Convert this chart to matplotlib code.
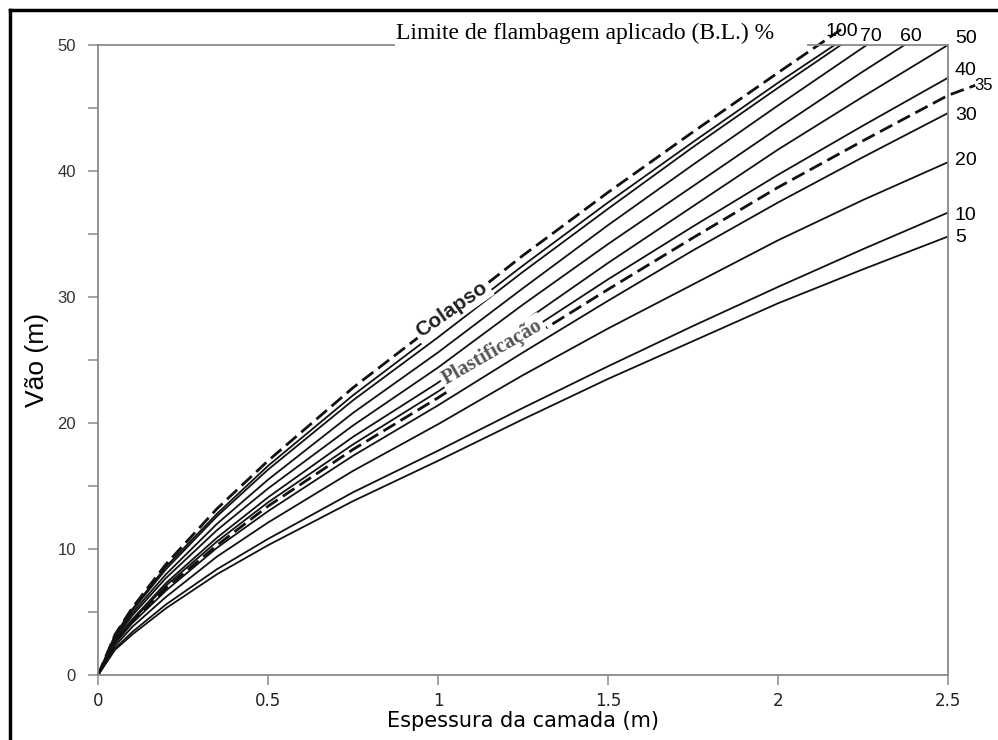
import matplotlib
matplotlib.use("Agg")
import matplotlib.pyplot as plt
from matplotlib.lines import Line2D

# espessura da camada (m) -> vao (m) for each B.L. curve
espessura = [0, 0.05, 0.1, 0.2, 0.35, 0.5, 0.75, 1.0, 1.25, 1.5, 1.75, 2.0, 2.25, 2.5]
vao_5 = [0, 2.0, 3.2, 5.3, 8.0, 10.3, 13.8, 17.0, 20.3, 23.5, 26.5, 29.5, 32.2, 34.8]
vao_10 = [0, 2.1, 3.4, 5.6, 8.4, 10.8, 14.5, 17.8, 21.2, 24.5, 27.7, 30.8, 33.8, 36.7]
vao_20 = [0, 2.3, 3.8, 6.2, 9.4, 12.1, 16.2, 19.9, 23.8, 27.5, 31.0, 34.5, 37.7, 40.7]
vao_30 = [0, 2.5, 4.1, 6.7, 10.1, 13.0, 17.4, 21.4, 25.6, 29.7, 33.7, 37.5, 41.1, 44.6]
vao_40 = [0, 2.6, 4.3, 7.1, 10.6, 13.7, 18.3, 22.5, 27.0, 31.4, 35.6, 39.7, 43.6, 47.4]
vao_50 = [0, 2.7, 4.4, 7.3, 10.9, 14.1, 18.9, 23.2, 28.0, 32.7, 37.2, 41.7, 45.9, 50.0]
vao_60 = [0, 2.8, 4.7, 7.7, 11.5, 14.8, 19.8, 24.4, 29.4, 34.2, 38.8, 43.4, 47.9, 52.2]
vao_70 = [0, 3.0, 4.9, 8.0, 12.0, 15.5, 20.8, 25.6, 30.7, 35.7, 40.5, 45.2, 49.8, 54.3]
vao_80 = [0, 3.1, 5.1, 8.4, 12.6, 16.3, 21.8, 26.8, 32.0, 37.0, 41.9, 46.6, 51.2]
vao_90 = [0, 3.2, 5.2, 8.6, 12.8, 16.6, 22.2, 27.3, 32.5, 37.5, 42.3, 47.0, 51.5]

# dashed curves run past the frame up to their labels
espessura_35 = [0, 0.05, 0.1, 0.2, 0.35, 0.5, 0.75, 1.0, 1.25, 1.5, 1.75, 2.0, 2.25, 2.5, 2.58]
vao_35 = [0, 2.6, 4.2, 6.9, 10.3, 13.4, 17.9, 22.0, 26.4, 30.6, 34.7, 38.7, 42.4, 46.0, 46.8]
espessura_100 = [0, 0.05, 0.1, 0.2, 0.35, 0.5, 0.75, 1.0, 1.25, 1.5, 1.75, 2.0, 2.2]
vao_100 = [0, 3.2, 5.3, 8.8, 13.2, 17.0, 22.8, 28.0, 33.3, 38.3, 43.1, 47.8, 51.5]

solid_curves = [vao_5, vao_10, vao_20, vao_30, vao_40, vao_50,
                vao_60, vao_70, vao_80, vao_90]

# curve labels and where they sit (data coords, outside the frame)
bl_labels = ["5", "10", "20", "30", "35", "40", "50", "60", "70", "100"]
bl_label_x = [2.52, 2.52, 2.52, 2.52, 2.578, 2.52, 2.52, 2.36, 2.24, 2.14]
bl_label_y = [34.7, 36.5, 40.8, 44.4, 46.8, 48.0, 50.5, 50.7, 50.7, 51.1]
bl_label_size = [14, 14, 14, 14, 12, 14, 14, 14, 14, 14]

xticks = [0, 0.5, 1, 1.5, 2, 2.5]
xtick_labels = ["0", "0.5", "1", "1.5", "2", "2.5"]
yticks = [0, 5, 10, 15, 20, 25, 30, 35, 40, 45, 50]
ytick_labels = ["0", "", "10", "", "20", "", "30", "", "40", "", "50"]

grey = "#8a8a8a"
narrow = ["Liberation Sans Narrow", "DejaVu Sans"]

fig = plt.figure(figsize=(9.98, 7.40), dpi=100)
ax = fig.add_axes([0.0982, 0.0878, 0.8517, 0.8514])

for vals in solid_curves:
    ax.plot(espessura[:len(vals)], vals, color="#111111", lw=1.3, zorder=2)

ax.plot(espessura_35, vao_35, color="#111111", lw=2.0, dashes=(5, 2.2),
        clip_on=False, zorder=2)
ax.plot(espessura_100, vao_100, color="#111111", lw=2.0, dashes=(5, 2.2),
        clip_on=False, zorder=2)

ax.set_xlim(0, 2.5)
ax.set_ylim(0, 50)

for side in ["left", "bottom", "right"]:
    ax.spines[side].set_color(grey)
    ax.spines[side].set_linewidth(1.3)
ax.spines["top"].set_visible(False)
# top edge is broken by the title box
ax.plot([0, 0.349], [1, 1], color=grey, lw=1.3, transform=ax.transAxes, clip_on=False)
ax.plot([0.835, 1], [1, 1], color=grey, lw=1.3, transform=ax.transAxes, clip_on=False)

ax.set_xticks(xticks)
ax.set_xticklabels(xtick_labels, family=narrow, fontsize=12, color="#222222")
ax.set_yticks(yticks)
ax.set_yticklabels(ytick_labels, family="Liberation Sans", fontsize=12, color="#333333")
ax.tick_params(axis="both", direction="out", length=7, width=1.1, color=grey)
ax.tick_params(axis="x", pad=5)
ax.tick_params(axis="y", pad=9)

ax.set_xlabel("Espessura da camada (m)", family=narrow, fontsize=15, labelpad=1)
ax.set_ylabel("Vão (m)", family="Liberation Sans", fontsize=19, labelpad=6)

ax.text(0.351, 1.018, "Limite de flambagem aplicado (B.L.) %", transform=ax.transAxes,
        family="Liberation Serif", fontsize=17, ha="left", va="center",
        bbox=dict(facecolor="white", edgecolor="none", pad=1))

for lab, lx, ly, fs in zip(bl_labels, bl_label_x, bl_label_y, bl_label_size):
    ax.text(lx, ly, lab, family="Liberation Sans", fontsize=fs, ha="left",
            va="center", clip_on=False)

ax.text(1.04, 29.0, "Colapso", family="Liberation Sans", fontweight="bold",
        fontsize=15, rotation=35, ha="center", va="center", color="#222222",
        bbox=dict(facecolor="white", edgecolor="none", pad=2), zorder=4)
ax.text(1.16, 25.6, "Plastificação", family="Liberation Serif", fontweight="bold",
        fontsize=15, rotation=30, ha="center", va="center", color="#555555",
        bbox=dict(facecolor="white", edgecolor="none", pad=2), zorder=4)

# scanned page border, top and left only
fig.add_artist(Line2D([10 / 998, 1], [1 - 10 / 740] * 2, color="black", lw=2.5,
                      transform=fig.transFigure))
fig.add_artist(Line2D([10 / 998] * 2, [0, 1 - 10 / 740], color="black", lw=2.5,
                      transform=fig.transFigure))

fig.savefig("out.png", dpi=100)
